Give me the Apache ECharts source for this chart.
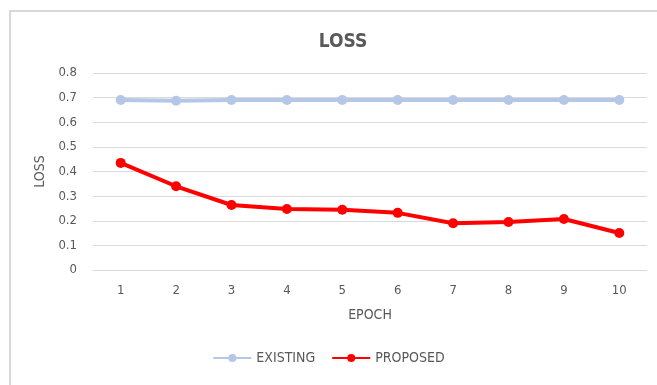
<!DOCTYPE html>
<html>
<head>
<meta charset="utf-8">
<script src="https://cdn.jsdelivr.net/npm/echarts@6/dist/echarts.min.js"></script>
<style>
  html, body { margin: 0; padding: 0; background: #fff; }
  #frame { position: absolute; left: 9px; top: 10px; width: 700px; height: 400px; border-left: 2px solid #d9d9d9; border-top: 2px solid #d9d9d9; }
  #main { position: absolute; left: 0; top: 0; width: 657px; height: 385px; }
</style>
</head>
<body>
<div id="frame"></div>
<div id="main"></div>
<script>
// 数据
const epochs = ['1', '2', '3', '4', '5', '6', '7', '8', '9', '10'];
const existing = [0.69, 0.687, 0.69, 0.69, 0.69, 0.69, 0.69, 0.69, 0.69, 0.69];
const proposed = [0.435, 0.34, 0.264, 0.248, 0.245, 0.232, 0.19, 0.195, 0.207, 0.15];
const yTicks = [0, 0.1, 0.2, 0.3, 0.4, 0.5, 0.6, 0.7, 0.8];

const font = "'DejaVu Sans Condensed', 'Liberation Sans', sans-serif";
const grey = '#595959';

var myChart = echarts.init(document.getElementById('main'));
var option = {
  animation: false,
  textStyle: { fontFamily: font },
  title: {
    text: 'LOSS',
    left: 338,
    top: 28,
    textAlign: 'center',
    textStyle: { fontSize: 19, fontWeight: 'bold', color: grey, fontFamily: font }
  },
  legend: {
    bottom: 15,
    left: 'center',
    itemWidth: 38,
    itemHeight: 10,
    itemGap: 16,
    textStyle: { fontSize: 14, color: grey, fontFamily: font },
    data: ['EXISTING', 'PROPOSED']
  },
  grid: { left: 93, right: 10, top: 73, bottom: 115 },
  xAxis: {
    type: 'category',
    data: epochs,
    name: 'EPOCH',
    nameLocation: 'middle',
    nameGap: 38,
    nameTextStyle: { fontSize: 14, color: grey },
    axisLine: { lineStyle: { color: '#d9d9d9' } },
    axisTick: { show: false },
    axisLabel: { fontSize: 13, color: grey, margin: 14 }
  },
  yAxis: {
    type: 'value',
    min: yTicks[0],
    max: yTicks[yTicks.length - 1],
    interval: 0.1,
    name: 'LOSS',
    nameLocation: 'middle',
    nameGap: 46,
    nameTextStyle: { fontSize: 14, color: grey },
    axisLine: { show: false },
    axisTick: { show: false },
    axisLabel: { fontSize: 13, color: grey, margin: 16 },
    splitLine: { lineStyle: { color: '#d9d9d9', width: 1 } }
  },
  series: [
    {
      name: 'EXISTING',
      type: 'line',
      data: existing,
      symbol: 'circle',
      symbolSize: 10,
      color: '#b4c7e7',
      lineStyle: { width: 4, color: '#b4c7e7' },
      itemStyle: { color: '#b4c7e7' }
    },
    {
      name: 'PROPOSED',
      type: 'line',
      data: proposed,
      symbol: 'circle',
      symbolSize: 10,
      color: '#ff0000',
      lineStyle: { width: 4, color: '#ff0000' },
      itemStyle: { color: '#ff0000' }
    }
  ]
};
option && myChart.setOption(option);
</script>
</body>
</html>
